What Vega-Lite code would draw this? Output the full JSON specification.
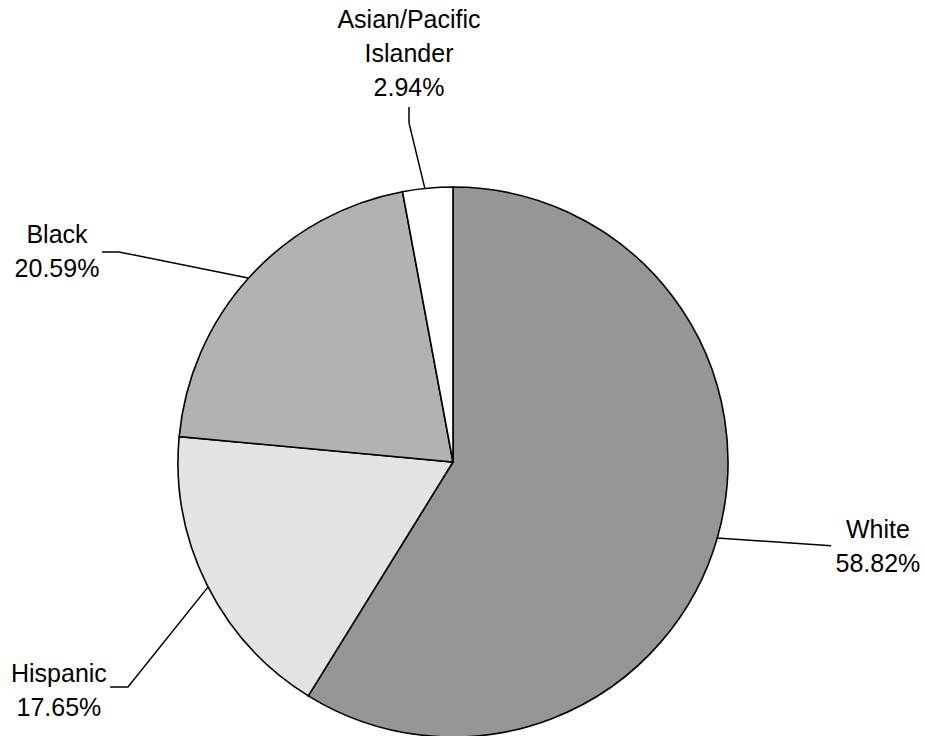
{
  "$schema": "https://vega.github.io/schema/vega-lite/v6.json",
  "width": 925,
  "height": 736,
  "autosize": "none",
  "padding": 0,
  "background": "white",
  "config": {"view": {"stroke": null}},
  "datasets": {
    "slices": [
      {"group": "White", "share": 58.82, "rank": 1},
      {"group": "Hispanic", "share": 17.65, "rank": 2},
      {"group": "Black", "share": 20.59, "rank": 3},
      {"group": "Asian/Pacific Islander", "share": 2.94, "rank": 4}
    ],
    "leaders": [
      {"group": "Asian/Pacific Islander", "i": 1, "lx": -0.16, "ly": 1.291},
      {"group": "Asian/Pacific Islander", "i": 2, "lx": -0.16, "ly": 1.233},
      {"group": "Asian/Pacific Islander", "i": 3, "lx": -0.102, "ly": 0.993},
      {"group": "Black", "i": 1, "lx": -1.276, "ly": 0.764},
      {"group": "Black", "i": 2, "lx": -1.215, "ly": 0.764},
      {"group": "Black", "i": 3, "lx": -0.745, "ly": 0.669},
      {"group": "White", "i": 1, "lx": 0.96, "ly": -0.276},
      {"group": "White", "i": 2, "lx": 1.375, "ly": -0.305},
      {"group": "Hispanic", "i": 1, "lx": -1.247, "ly": -0.818},
      {"group": "Hispanic", "i": 2, "lx": -1.182, "ly": -0.818},
      {"group": "Hispanic", "i": 3, "lx": -0.891, "ly": -0.455}
    ],
    "labels": [
      {"label": "Asian/Pacific\nIslander\n2.94%", "tx": -0.16, "ty": 1.578},
      {"label": "Black\n20.59%", "tx": -1.44, "ty": 0.796},
      {"label": "White\n58.82%", "tx": 1.545, "ty": -0.276},
      {"label": "Hispanic\n17.65%", "tx": -1.433, "ty": -0.8}
    ]
  },
  "layer": [
    {
      "data": {"name": "slices"},
      "mark": {"type": "arc", "radius": 275, "stroke": "black", "strokeWidth": 1.6},
      "encoding": {
        "theta": {"field": "share", "type": "quantitative", "stack": true},
        "order": {"field": "rank", "type": "quantitative"},
        "color": {
          "field": "group",
          "type": "nominal",
          "scale": {
            "domain": ["White", "Hispanic", "Black", "Asian/Pacific Islander"],
            "range": ["#969696", "#e3e3e3", "#b2b2b2", "#ffffff"]
          },
          "legend": null
        },
        "x": {"datum": 0, "type": "quantitative", "scale": {"domain": [-1.6473, 1.7164], "nice": false, "zero": false}, "axis": null},
        "y": {"datum": 0, "type": "quantitative", "scale": {"domain": [-0.9964, 1.68], "nice": false, "zero": false}, "axis": null}
      }
    },
    {
      "data": {"name": "leaders"},
      "mark": {"type": "line", "color": "black", "strokeWidth": 1.5},
      "encoding": {
        "x": {"field": "lx", "type": "quantitative", "scale": {"domain": [-1.6473, 1.7164], "nice": false, "zero": false}, "axis": null},
        "y": {"field": "ly", "type": "quantitative", "scale": {"domain": [-0.9964, 1.68], "nice": false, "zero": false}, "axis": null},
        "detail": {"field": "group", "type": "nominal"},
        "order": {"field": "i", "type": "quantitative"}
      }
    },
    {
      "data": {"name": "labels"},
      "mark": {"type": "text", "align": "center", "baseline": "alphabetic", "fontSize": 25, "font": "Liberation Sans", "lineBreak": "\n", "lineHeight": 34, "color": "black"},
      "encoding": {
        "x": {"field": "tx", "type": "quantitative", "scale": {"domain": [-1.6473, 1.7164], "nice": false, "zero": false}, "axis": null},
        "y": {"field": "ty", "type": "quantitative", "scale": {"domain": [-0.9964, 1.68], "nice": false, "zero": false}, "axis": null},
        "text": {"field": "label"}
      }
    }
  ]
}
